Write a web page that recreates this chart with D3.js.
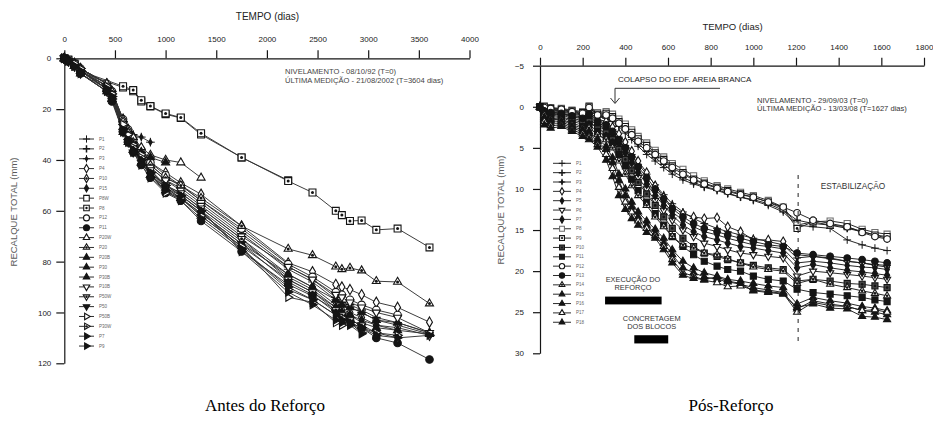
<!DOCTYPE html>
<html><head><meta charset="utf-8">
<script src="https://cdn.jsdelivr.net/npm/d3@7"></script>
<style>body{margin:0;background:#fff}svg{display:block}</style>
</head><body>
<svg id="c" width="933" height="421"></svg>
<script>
// ---------- DATA: "Antes do Reforço" (left) ----------
const antesDays = [0,40,100,160,420,470,580,630,680,760,850,1000,1150,1350,1750,2210,2450,2680,2740,2820,2935,3080,3290,3605];
const antesNames = ["P1","P2","P3","P4","P10","P15","P8W","P8","P12","P11","P20W","P20","P20B","P30","P30B","P10B","P50W","P50","P50B","P30W","P7","P9"];
const antesP1   = [0,1,3,5,11,14,26,30,33,38,43,48,51,57,69,83,88,95,97,98,100,103,105,108.5];
const antesP2   = [0,1,2,4,10,13,25,29,32,37,42,47,50,56,68,82,87,94,96,97,99,102,104,108];
const antesP3   = [0,1,3,6,12,15,25,28,30,31,33,null,null,null,null,null,null,null,null,null,null,null,null,null];
const antesP4   = [0,1,2,4,10,13,24,28,31,36,41,45,49,53.5,66,80.5,84,89,90,91,93,96,98,103.8];
const antesP10  = [0,1,3,5,12,15,27,31,34,39,44,50,53,59,71,85,90,97,99,100,102,105,106,109];
const antesP15  = [0,1,2,5,11,14,27,31,35,40,45,51,54,60,72,86,91,98,100,101,103,105,107,null];
const antesP8W  = [0,0.8,2.5,5.5,null,null,11.5,null,13,17,19,22,23.5,30,39,48,null,null,null,null,null,null,null,null];
const antesP8   = [0,0.5,2,5,null,null,11,null,12.5,16.5,18.8,21.7,23.3,29.5,39,48.3,52.8,60,61.7,64,63.8,67.5,67,74.4];
const antesP12  = [0,1,2,4,10,13,24,28,32,36,41,46,50,56,67,81,86,92,93,95,97,99,101,null];
const antesP11  = [0,1,3,6,13,17,29,33,37,42,47,53,56,64,76,89,93.5,99,101,102,106,110,112,118.5];
const antesP20W = [0,1,2,4,10,13,24,28,31,35,38,40,41,47,null,null,null,null,null,null,null,null,null,null];
const antesP20  = [0,1,2,4,10,13,25,29,33,37,42,47,50,55,66,75,77.5,82,83,82.5,83.5,87.7,88,96.5];
const antesP20B = [0,1,3,5,12,15,27,31,34,37,39,41,null,null,null,null,null,null,null,null,null,null,null,null];
const antesP30  = [0,1,3,6,13,16,29,33,36,41,46,52,55,62,74,87,92,98,100,101,104,106,107,108.5];
const antesP30B = [0,1,3,5,12,16,28,32,36,41,46,51,55,61,73,85,90,95,97,98,100,103,104,108];
const antesP10B = [0,1,2,5,11,14,26,30,34,38,43,48,52,58,70,82,87,93,94,96,98,100,102,108];
const antesP50W = [0,1,3,5,12,15,27,31,35,39,44,50,53,59,71,87,92,99,101,103,105,108,110,null];
const antesP50  = [0,1,3,6,13,16,29,33,37,41,46,51,55,61,73,88,93,100,102,104,107,null,null,null];
const antesP50B = [0,1,2,4,11,14,26,30,34,38,45,53,55,62,74,94,96,104,105,104,108,null,null,null];
const antesP30W = [0,1,3,5,12,15,28,32,35,39,45,50,54,60,75,91,95,101,102,104,106,108,109,null];
const antesP7   = [0,1,3,5,12,15,28,32,36,40,45,50,54,60,76,92,97,103,104,105,108.4,null,null,null];
const antesP9   = [0,1,3,6,13,16,29,33,37,42,47,52,56,63,75,90,95,101,103,104,106,109,110,109];
const antesXTicks = [0,500,1000,1500,2000,2500,3000,3500,4000];
const antesYTicks = [0,20,40,60,80,100,120];

// ---------- DATA: "Pós-Reforço" (right) ----------
const posDays = [0,20,50,100,150,200,230,270,310,340,370,400,430,460,500,540,580,620,670,720,770,830,880,940,1000,1070,1140,1205,1280,1360,1440,1510,1570,1627];
const posNames = ["P1","P2","P3","P4","P5","P6","P7","P8","P9","P10","P11","P12","P13","P14","P15","P16","P17","P18"];
const posP1  = [0,0.2,0.4,0.5,0.8,1.0,0.4,1.2,1.4,1.8,2.4,3.2,4.0,4.8,5.8,6.6,7.4,8.2,8.9,9.4,9.8,10.2,10.6,11.0,11.4,12.0,12.8,14.4,14.6,14.8,16.2,16.8,17.2,17.5];
const posP2  = [0,0.1,0.3,0.4,0.7,0.9,0.3,1.1,1.2,1.6,2.2,2.9,3.7,4.5,5.4,6.2,7.0,7.8,8.6,9.2,9.7,10.1,10.5,11.0,11.3,11.8,12.6,13.8,14.2,14.4,14.8,15.2,15.6,16.0];
const posP3  = [0,0.4,0.6,0.8,1.0,1.3,0.8,1.7,2.0,2.8,3.7,4.7,5.8,7.0,8.2,9.5,10.7,11.8,12.8,13.6,14.2,14.8,15.2,15.6,16.0,16.4,16.8,18.4,18.2,18.5,18.8,19.0,19.2,19.3];
const posP4  = [0,0.3,0.5,0.6,0.9,1.1,0.6,1.5,1.8,2.5,3.3,4.3,5.4,6.6,8.0,9.6,11.0,12.2,13.0,13.4,13.6,13.5,14.6,15.2,16.2,16.2,16.4,18.0,18.2,18.4,18.8,19.0,19.3,19.5];
const posP5  = [0,0.5,0.8,0.9,1.2,1.5,1.0,2.0,2.4,3.2,4.2,5.2,6.4,7.6,9.0,10.4,11.6,12.8,13.8,14.6,15.2,15.6,16.0,16.4,16.8,17.0,17.3,19.0,18.8,19.0,19.3,19.5,19.6,19.8];
const posP6  = [0,0.7,1.0,1.2,1.6,1.9,1.4,2.4,2.8,3.6,4.8,6.0,7.2,8.6,10.0,11.4,12.6,13.8,15.0,15.8,16.6,17.0,17.4,17.8,18.0,18.2,18.4,20.6,20.0,20.2,20.4,20.6,20.8,21.0];
const posP7  = [0,0.6,0.9,1.0,1.4,1.7,1.2,2.2,2.6,3.4,4.5,5.6,6.8,8.0,9.4,10.8,12.0,13.2,14.4,15.2,15.8,16.2,16.6,17.0,17.2,17.5,17.8,19.6,19.2,19.6,19.9,20.1,20.3,20.5];
const posP8  = [0,-0.1,0.1,0.2,0.4,0.6,-0.1,0.7,0.6,0.9,1.5,2.1,2.8,3.6,4.4,5.3,6.1,6.9,7.6,8.4,9.0,9.6,10.0,10.4,10.8,11.4,12.2,14.4,14.0,13.9,14.2,14.9,15.3,15.5];
const posP9  = [0,0.0,0.2,0.3,0.5,0.7,0.0,0.9,0.8,1.2,1.8,2.4,3.1,3.9,4.7,5.6,6.4,7.2,8.0,8.8,9.3,9.8,10.2,10.6,11.0,11.6,12.4,14.8,14.0,14.4,14.6,15.2,15.6,15.8];
const posP10 = [0,0.8,1.2,1.3,1.8,2.1,1.8,2.7,3.2,4.0,5.2,6.4,7.8,9.2,10.6,12.0,13.4,14.8,16.0,17.0,17.8,18.2,18.6,19.0,19.3,19.6,19.8,21.2,21.0,21.2,21.5,21.6,21.8,22.0];
const posP11 = [0,1.0,1.4,1.5,2.0,2.4,2.2,3.0,3.6,4.4,5.8,7.2,8.8,10.2,11.6,13.0,14.4,15.8,17.0,18.0,18.8,19.4,19.8,20.0,20.6,21.0,21.2,22.2,22.6,22.8,23.0,23.2,23.5,23.7];
const posP12 = [0,0.1,0.2,0.3,0.6,0.8,0.1,1.0,1.0,1.4,2.0,2.7,3.4,4.2,5.0,5.8,6.6,7.4,8.2,8.9,9.4,9.9,10.3,10.7,11.0,11.6,12.2,12.9,13.8,14.2,14.6,15.3,15.8,16.1];
const posP13 = [0,0.5,0.7,0.8,1.1,1.4,0.9,1.8,2.2,3.0,4.0,5.0,6.1,7.3,8.6,10.0,11.2,12.4,13.4,14.2,14.8,15.2,15.6,16.0,16.4,16.8,17.0,17.8,18.0,18.2,18.4,18.6,18.8,19.0];
const posP14 = [0,1.0,1.5,1.6,2.2,2.6,2.6,3.4,4.0,5.0,6.6,8.2,9.6,10.8,12.0,13.4,14.6,15.8,16.8,17.2,17.8,18.0,18.5,19.0,19.5,19.8,20.0,21.5,21.0,21.6,22.0,22.4,22.7,23.0];
const posP15 = [0,1.3,1.7,1.8,2.4,2.8,3.0,3.9,4.8,6.2,8.2,10.0,11.6,12.8,13.9,14.9,16.0,17.4,18.8,19.6,20.2,20.6,21.0,21.2,21.5,21.8,22.0,24.0,23.2,23.6,23.9,24.3,24.5,24.8];
const posP16 = [0,1.5,2.0,2.0,2.6,3.0,3.3,4.2,5.2,6.8,9.0,10.8,12.2,13.4,14.4,15.4,16.6,18.0,19.6,20.2,20.7,21.0,21.3,21.6,22.0,22.3,22.6,24.6,23.6,24.0,24.3,24.8,25.0,25.3];
const posP17 = [0,1.8,2.3,2.2,2.8,3.3,3.7,4.6,5.8,7.5,9.8,11.6,12.8,13.9,14.8,15.7,17.0,18.6,20.2,20.6,21.1,21.4,21.9,21.8,22.3,22.5,22.7,25.0,23.8,24.2,24.3,24.8,24.7,25.0];
const posP18 = [0,2.2,2.6,2.4,3.0,3.6,4.0,4.9,6.5,8.5,10.8,12.5,13.6,14.4,15.3,16.0,17.4,19.0,20.5,20.9,21.0,20.7,21.2,21.5,22.4,22.6,22.8,24.4,24.0,24.5,24.6,25.5,25.6,25.9];
const posXTicks = [0,200,400,600,800,1000,1200,1400,1600,1800];
const posYTicks = [-5,0,5,10,15,20,25,30];
const posPhases = [["EXECUÇÃO DO","REFORÇO"],["CONCRETAGEM","DOS BLOCOS"]];
const posPhaseDays = [[305,570],[442,601]];
const posPhaseMm = [[23.1,24.05],[27.8,28.8]];
const posStabilizationDay = 1210;

// ---------- styles ----------
const antesSeriesValues = [antesP1,antesP2,antesP3,antesP4,antesP10,antesP15,antesP8W,antesP8,antesP12,antesP11,antesP20W,antesP20,antesP20B,antesP30,antesP30B,antesP10B,antesP50W,antesP50,antesP50B,antesP30W,antesP7,antesP9];
const antesMarkers = [["plus","open"],["plusB","open"],["plusF","filled"],["diamond","open"],["diamond","dot"],["diamondS","filled"],["square","open"],["square","dot"],["circle","open"],["circle","filled"],["tri","open"],["tri","dot"],["tri","filled"],["tri","filled"],["tri","filled"],["triDown","open"],["triDown","dot"],["triDown","filled"],["triRight","open"],["triRight","dot"],["triRight","filled"],["triRight","filled"]];
const posSeriesValues = [posP1,posP2,posP3,posP4,posP5,posP6,posP7,posP8,posP9,posP10,posP11,posP12,posP13,posP14,posP15,posP16,posP17,posP18];
const posMarkers = [["plus","open"],["plusB","open"],["plusF","filled"],["diamond","open"],["diamondS","filled"],["triDown","open"],["diamond","filled"],["square","gray"],["square","dot"],["square","dotF"],["square","filled"],["circle","open"],["circle","filled"],["tri","dot"],["tri","filled"],["tri","filled"],["tri","open"],["tri","filled"]];

const svg = d3.select("#c");
const FONT = "Liberation Sans, Arial, sans-serif";
const INK = "#151515";

function addMarker(g, x, y, m, s){
  const [type, fill] = m;
  if (type.startsWith("plus")) {
    const h = s/2 + 0.6;
    g.append("path").attr("d", `M${x-h},${y}H${x+h}M${x},${y-h}V${y+h}`)
      .attr("stroke", INK).attr("stroke-width", type==="plusB"?1.5:1).attr("fill","none");
    if (type==="plusF") g.append("path").attr("d", d3.symbol(d3.symbolDiamond, s*s*0.35)())
      .attr("transform", `translate(${x},${y})`).attr("fill", INK);
    return;
  }
  let sym, area, rot = 0;
  if (type==="square"){ sym=d3.symbolSquare; area=s*s*0.85; }
  else if (type==="circle"){ sym=d3.symbolCircle; area=Math.PI*s*s/4; }
  else if (type==="diamond"){ sym=d3.symbolDiamond; area=s*s*0.55; }
  else if (type==="diamondS"){ sym=d3.symbolDiamond; area=s*s*0.42; }
  else { sym=d3.symbolTriangle; area=s*s*0.5; rot = type==="triDown"?180:(type==="triRight"?90:0); }
  g.append("path").attr("d", d3.symbol(sym, area)())
    .attr("transform", `translate(${x},${y}) rotate(${rot})`)
    .attr("fill", fill==="filled"?INK:(fill==="dotF"?"#444":"#fff"))
    .attr("stroke", fill==="gray"?"#6e6e6e":INK).attr("stroke-width", 1.1);
  if (fill==="dot"||fill==="dotF") g.append("circle").attr("cx",x).attr("cy",y).attr("r",s*0.2).attr("fill",INK);
}

function panel(cfg){
  const {x, y, days, values, markers, names, xTicks, yTicks, ms, lineColor} = cfg;
  const g = svg.append("g");
  const ax = g.append("g").attr("transform",`translate(0,${y(y.domain()[0])})`)
    .call(d3.axisTop(x).tickValues(xTicks).tickSize(8).tickSizeOuter(0).tickPadding(cfg.xPad).tickFormat(d3.format("d")));
  const ay = g.append("g").attr("transform",`translate(${x(0)},0)`)
    .call(d3.axisLeft(y).tickValues(yTicks).tickSize(cfg.yTick).tickSizeOuter(0).tickPadding(cfg.yPad).tickFormat(d3.format("d")));
  [ax, ay].forEach(a=>{
    a.selectAll("path.domain").attr("stroke", INK).attr("stroke-width",1.2);
    a.selectAll(".tick line").attr("stroke", INK).attr("stroke-width",1.2);
    a.selectAll(".tick text").attr("font-family",FONT).attr("font-size",8).attr("fill","#222");
  });
  const sg = g.append("g");
  values.forEach((vals)=>{
    const pts = days.map((d,j)=>[d, vals[j]]).filter(p=>p[1]!=null);
    sg.append("path").attr("d", d3.line().x(p=>x(p[0])).y(p=>y(p[1]))(pts))
      .attr("fill","none").attr("stroke", lineColor).attr("stroke-width",0.95);
  });
  values.forEach((vals, i)=>{
    days.forEach((d,j)=>{ if (vals[j]!=null) addMarker(sg, x(d), y(vals[j]), markers[i], ms); });
  });
  const lg = g.append("g");
  names.forEach((n,i)=>{
    const ly = cfg.legY + i*cfg.legDy;
    lg.append("line").attr("x1",cfg.legX0).attr("x2",cfg.legX1).attr("y1",ly).attr("y2",ly).attr("stroke",INK).attr("stroke-width",0.9);
    addMarker(lg, (cfg.legX0+cfg.legX1)/2, ly, markers[i], ms*0.8);
    lg.append("text").attr("x",cfg.legX1+5).attr("y",ly+1.5).text(n)
      .attr("font-family",FONT).attr("font-size",4.5).attr("fill","#666");
  });
  return g;
}

// ---------- left panel ----------
const xL = d3.scaleLinear().domain([0,4000]).range([64.3,469.5]);
const yL = d3.scaleLinear().domain([0,120]).range([58.3,363.3]);
panel({x:xL, y:yL, days:antesDays, values:antesSeriesValues, markers:antesMarkers, names:antesNames,
  xTicks:antesXTicks, yTicks:antesYTicks, ms:7.5, lineColor:"#333", xPad:8.5, yTick:8, yPad:5,
  legX0:79, legX1:94, legY:139, legDy:9.86});

// ---------- right panel ----------
const xR = d3.scaleLinear().domain([0,1800]).range([540,924]);
const yR = d3.scaleLinear().domain([-5,30]).range([65.7,353.3]);
panel({x:xR, y:yR, days:posDays, values:posSeriesValues, markers:posMarkers, names:posNames,
  xTicks:posXTicks, yTicks:posYTicks, ms:6.6, lineColor:"#1e1e1e", xPad:7.3, yTick:7, yPad:9,
  legX0:553, legX1:571, legY:163.3, legDy:9.35});

// ---------- texts & annotations ----------
function txt(x, y, s, size, opts={}){
  const t = svg.append("text").attr("x",x).attr("y",y).text(s)
    .attr("font-family", opts.family||FONT).attr("font-size",size).attr("fill",opts.fill||"#222")
    .attr("text-anchor", opts.anchor||"start");
  if (opts.rotate) t.attr("transform",`rotate(-90,${x},${y})`);
  return t;
}
txt(267.5, 20, "TEMPO (dias)", 10, {anchor:"middle"});
txt(732.5, 30, "TEMPO (dias)", 9.5, {anchor:"middle"});
txt(17, 212, "RECALQUE TOTAL (mm)", 9.5, {anchor:"middle", rotate:true, fill:"#5a5a5a"});
txt(503.5, 210, "RECALQUE TOTAL (mm)", 9.5, {anchor:"middle", rotate:true, fill:"#5a5a5a"});

txt(285, 73.5, "NIVELAMENTO - 08/10/92 (T=0)", 7.6, {fill:"#444"});
txt(285, 82.5, "ÚLTIMA MEDIÇÃO - 21/08/2002 (T=3604 dias)", 7.6, {fill:"#444"});
txt(757, 103, "NIVELAMENTO - 29/09/03 (T=0)", 7.6, {fill:"#333"});
txt(757, 111, "ÚLTIMA MEDIÇÃO - 13/03/08 (T=1627 dias)", 7.6, {fill:"#333"});
txt(618, 81.5, "COLAPSO DO EDF. AREIA BRANCA", 8, {fill:"#222"});
svg.append("path").attr("d","M720,88.3H615V103").attr("fill","none").attr("stroke","#333").attr("stroke-width",1);
svg.append("path").attr("d","M610.5,98L615,103.5L619.5,98").attr("fill","none").attr("stroke","#333").attr("stroke-width",1);
txt(853, 189, "ESTABILIZAÇÃO", 8.3, {anchor:"middle", fill:"#333"});
svg.append("line").attr("x1",xR(posStabilizationDay)).attr("x2",xR(posStabilizationDay))
  .attr("y1",175).attr("y2",343).attr("stroke","#222").attr("stroke-width",1).attr("stroke-dasharray","4,5");

posPhases.forEach((lab,i)=>{
  const [d0,d1] = posPhaseDays[i], [m0,m1] = posPhaseMm[i];
  svg.append("rect").attr("x",xR(d0)).attr("y",yR(m0)).attr("width",xR(d1)-xR(d0)).attr("height",yR(m1)-yR(m0)).attr("fill","#000");
});
txt(633, 282, posPhases[0][0], 7.4, {anchor:"middle", fill:"#333"});
txt(633, 290, posPhases[0][1], 7.4, {anchor:"middle", fill:"#333"});
txt(651.7, 320.5, posPhases[1][0], 7.4, {anchor:"middle", fill:"#333"});
txt(651.7, 328.5, posPhases[1][1], 7.4, {anchor:"middle", fill:"#333"});

txt(265, 411, "Antes do Reforço", 17, {anchor:"middle", family:"Liberation Serif, Times New Roman, serif", fill:"#000"});
txt(731, 411, "Pós-Reforço", 17, {anchor:"middle", family:"Liberation Serif, Times New Roman, serif", fill:"#000"});
</script>
</body></html>
